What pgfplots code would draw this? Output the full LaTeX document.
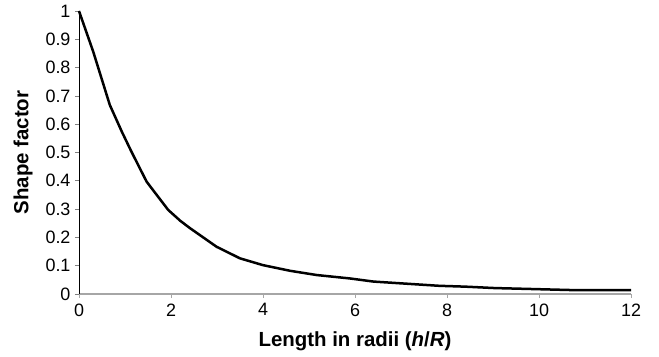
\documentclass[border=0pt]{standalone}
\usepackage{pgfplots}
\pgfplotsset{compat=1.18}
\usepackage{fontspec}
\setmainfont{Liberation Sans}
\begin{document}
\begin{tikzpicture}
\begin{axis}[
  scale only axis,
  width=552bp, height=283bp,
  xmin=0, xmax=12, ymin=0, ymax=1,
  axis lines=left,
  axis line style={-},
  x axis line style={gray!70, line width=1.2bp},
  y axis line style={black, line width=0.8bp},
  xtick={0,2,...,12},
  ytick={0,0.1,...,1},
  yticklabels={0,0.1,0.2,0.3,0.4,0.5,0.6,0.7,0.8,0.9,1},
  tick align=outside,
  major tick length=4bp,
  x tick style={gray!70, line width=0.8bp},
  y tick style={gray, line width=0.8bp},
  tick label style={font=\fontsize{18}{20}\selectfont},
  /pgf/number format/assume math mode=true,
  xticklabel style={yshift=-2bp},
  yticklabel style={xshift=-1bp},
  xlabel={\textbf{Length in radii (\textit{h}/\textit{R})}},
  ylabel={\textbf{Shape factor}},
  label style={font=\fontsize{20.5}{22}\selectfont},
  xlabel style={yshift=-9bp},
  ylabel style={yshift=6bp},
  clip=false,
]
\addplot[black, line width=2.5bp, line join=round] coordinates {
(0,1) (0.31,0.856) (0.67,0.668) (0.93,0.574) (1.14,0.503) (1.47,0.397)
(1.69,0.350) (1.94,0.297) (2.2,0.259) (2.41,0.233) (2.63,0.208) (2.99,0.167)
(3.5,0.126) (4.0,0.102) (4.59,0.082) (5.17,0.067) (5.89,0.055) (6.4,0.044)
(6.97,0.038) (7.83,0.029) (8.4,0.026) (9.04,0.021) (9.76,0.018) (10.7,0.014)
(12,0.014)
};
\path (rel axis cs:-0.1431,-0.2191) rectangle (rel axis cs:1.0507,1.0389);
\end{axis}
\end{tikzpicture}
\end{document}
